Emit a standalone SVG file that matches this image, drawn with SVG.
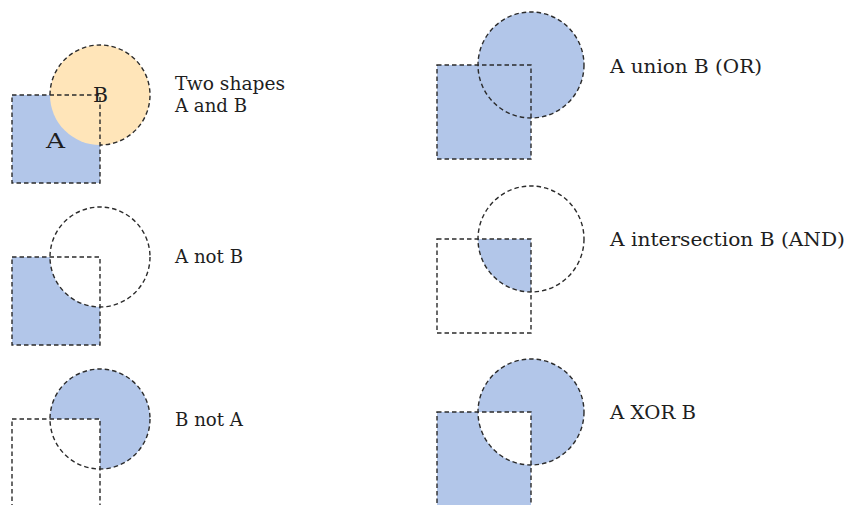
<svg xmlns="http://www.w3.org/2000/svg" width="847" height="505" viewBox="0 0 847 505">
<style>
.ln{fill:none;stroke:#2b2b2b;stroke-width:1.4;stroke-dasharray:4.5 3}
.bl{fill:#b2c6e9;stroke:none}
.or{fill:#ffe5b9;stroke:none}
.t{font-family:"DejaVu Serif",serif;font-size:18px;fill:#1e1e1e}
.big{font-family:"DejaVu Serif",serif;font-size:21px;fill:#1e1e1e}
</style>
<rect width="847" height="505" fill="#fff"/>
<g id="two-shapes">
<rect class="bl" x="12" y="95" width="88" height="88"/>
<circle class="or" cx="100" cy="95" r="50"/>
<rect class="ln" x="12" y="95" width="88" height="88"/>
<path class="ln" d="M50,95 A50,50 0 1 1 100,145"/>
<text class="big" x="46" y="148" textLength="19" lengthAdjust="spacingAndGlyphs">A</text>
<text class="big" x="93" y="102" textLength="15" lengthAdjust="spacingAndGlyphs">B</text>
<text class="t" x="175" y="90" textLength="110" lengthAdjust="spacingAndGlyphs">Two shapes</text>
<text class="t" x="175" y="112" textLength="72" lengthAdjust="spacingAndGlyphs">A and B</text>
</g>
<g id="a-not-b">
<path class="bl" d="M12,257 H50 A50,50 0 0 0 100,307 V345 H12 Z"/>
<rect class="ln" x="12" y="257" width="88" height="88"/>
<circle class="ln" cx="100" cy="257" r="50"/>
<text class="t" x="175" y="263" textLength="68" lengthAdjust="spacingAndGlyphs">A not B</text>
</g>
<g id="b-not-a">
<path class="bl" d="M50,419 A50,50 0 1 1 100,469 V419 Z"/>
<rect class="ln" x="12" y="419" width="88" height="88"/>
<circle class="ln" cx="100" cy="419" r="50"/>
<text class="t" x="175" y="426" textLength="68" lengthAdjust="spacingAndGlyphs">B not A</text>
</g>
<g id="union">
<rect class="bl" x="437" y="65" width="94" height="94"/>
<circle class="bl" cx="531" cy="65" r="53"/>
<rect class="ln" x="437" y="65" width="94" height="94"/>
<circle class="ln" cx="531" cy="65" r="53"/>
<text class="t" x="610" y="73" textLength="152" lengthAdjust="spacingAndGlyphs">A union B (OR)</text>
</g>
<g id="intersection">
<path class="bl" d="M531,239 H478 A53,53 0 0 0 531,292 Z"/>
<rect class="ln" x="437" y="239" width="94" height="94"/>
<circle class="ln" cx="531" cy="239" r="53"/>
<text class="t" x="610" y="246" textLength="235" lengthAdjust="spacingAndGlyphs">A intersection B (AND)</text>
</g>
<g id="xor">
<path class="bl" fill-rule="evenodd" d="M437,412 H531 V506 H437 Z M478,412 A53,53 0 1 1 584,412 A53,53 0 1 1 478,412 Z"/>
<rect class="ln" x="437" y="412" width="94" height="94"/>
<circle class="ln" cx="531" cy="412" r="53"/>
<text class="t" x="610" y="419" textLength="86" lengthAdjust="spacingAndGlyphs">A XOR B</text>
</g>
<g id="connectors"/>
</svg>
